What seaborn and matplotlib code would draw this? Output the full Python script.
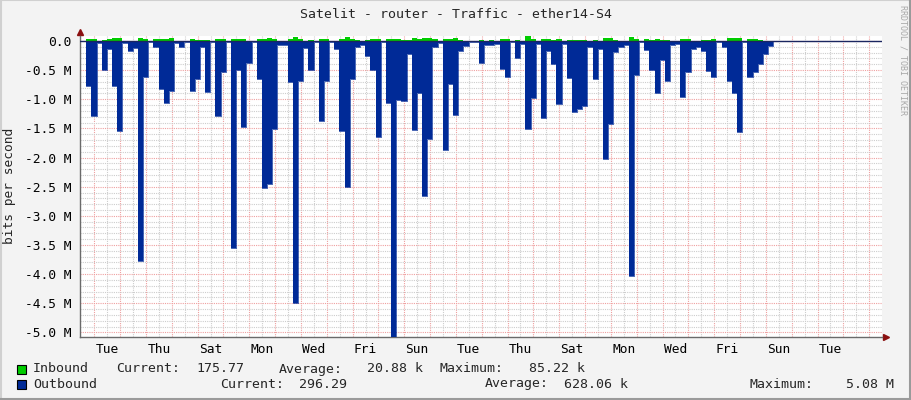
import numpy as np
import pandas as pd
import matplotlib
matplotlib.use('Agg')
import matplotlib.pyplot as plt
from matplotlib.patches import Rectangle
from matplotlib.lines import Line2D
from matplotlib.ticker import MultipleLocator
import seaborn as sns

# one sample every 4.8 h, starting Monday late morning
sample_start = '2024-01-01 11:43'
sample_step = '288min'

# outbound traffic in Mbit/s (drawn below zero)
outbound_mbps = [
    0.00, 0.78, 1.28, 0.03, 0.49, 0.13, 0.78, 1.55, 0.03, 0.18,
    0.12, 3.77, 0.61, 0.02, 0.11, 0.82, 1.06, 0.86, 0.03, 0.11,
    0.02, 0.86, 0.66, 0.10, 0.88, 0.02, 1.28, 0.54, 0.02, 3.55,
    0.50, 1.47, 0.37, 0.02, 0.65, 2.52, 2.46, 1.51, 0.07, 0.07,
    0.70, 4.50, 0.68, 0.12, 0.50, 0.02, 1.37, 0.69, 0.02, 0.14,
    1.55, 2.50, 0.66, 0.11, 0.06, 0.26, 0.49, 1.64, 0.02, 1.06,
    5.08, 1.01, 1.03, 0.22, 1.52, 0.89, 2.66, 1.68, 0.10, 0.03,
    1.87, 0.74, 1.27, 0.17, 0.09, 0.01, 0.01, 0.38, 0.07, 0.07,
    0.05, 0.48, 0.61, 0.02, 0.30, 0.05, 1.51, 0.97, 0.05, 1.32,
    0.18, 0.40, 1.08, 0.05, 0.63, 1.21, 1.16, 1.11, 0.10, 0.66,
    0.13, 2.02, 1.42, 0.19, 0.11, 0.07, 4.03, 0.58, 0.02, 0.16,
    0.49, 0.89, 0.32, 0.69, 0.07, 0.05, 0.96, 0.53, 0.14, 0.10,
    0.17, 0.52, 0.61, 0.02, 0.10, 0.69, 0.89, 1.56, 0.02, 0.61,
    0.53, 0.40, 0.22, 0.09, 0.00, 0.00, 0.00, 0.00, 0.00, 0.00,
    0.00, 0.00, 0.00, 0.00, 0.00, 0.00, 0.00, 0.00, 0.00, 0.00,
    0.00, 0.00, 0.00, 0.00,
]

# inbound traffic in kbit/s
inbound_kbps = [
    0, 35, 40, 5, 23, 40, 57, 57, 0, 5,
    5, 57, 40, 0, 34, 40, 40, 57, 0, 5,
    0, 34, 23, 11, 23, 0, 34, 34, 0, 40,
    34, 34, 5, 0, 29, 40, 57, 40, 0, 5,
    29, 75, 40, 5, 23, 0, 40, 29, 0, 5,
    40, 75, 40, 10, 5, 10, 29, 34, 0, 29,
    29, 34, 17, 17, 57, 29, 57, 57, 29, 5,
    29, 29, 46, 10, 5, 0, 0, 17, 5, 17,
    5, 40, 40, 0, 23, 5, 85, 29, 5, 29,
    29, 20, 40, 5, 17, 23, 10, 10, 5, 23,
    5, 57, 57, 10, 5, 5, 69, 40, 0, 34,
    10, 34, 23, 10, 5, 5, 40, 40, 5, 5,
    23, 23, 40, 0, 5, 52, 57, 52, 0, 29,
    29, 10, 5, 5, 0, 0, 0, 0, 0, 0,
    0, 0, 0, 0, 0, 0, 0, 0, 0, 0,
    0, 0, 0, 0,
]

day_labels = ['Tue', 'Thu', 'Sat', 'Mon', 'Wed', 'Fri', 'Sun', 'Tue',
              'Thu', 'Sat', 'Mon', 'Wed', 'Fri', 'Sun', 'Tue']
y_ticks = [0.0, -0.5, -1.0, -1.5, -2.0, -2.5, -3.0, -3.5, -4.0, -4.5, -5.0]
y_labels = ['0.0', '-0.5 M', '-1.0 M', '-1.5 M', '-2.0 M', '-2.5 M',
            '-3.0 M', '-3.5 M', '-4.0 M', '-4.5 M', '-5.0 M']

inbound_stats = ['175.77', '20.88 k', '85.22 k']
outbound_stats = ['296.29', '628.06 k', '5.08 M']

title = 'Satelit - router - Traffic - ether14-S4'

GREEN = '#00CC00'
BLUE = '#002A97'
RED_GRID = '#EFA0A0'
GRAY_GRID = '#CDCDCD'

sns.set_style('white')
plt.rcParams['font.family'] = ['DejaVu Sans Mono']

fig = plt.figure(figsize=(9.11, 4.0), dpi=100, facecolor='#F3F3F3')
ax = fig.add_axes([80 / 911, 63 / 400, 802 / 911, 301 / 400])
ax.set_facecolor('white')

edges = pd.date_range(sample_start, periods=len(outbound_mbps) + 1, freq=sample_step)
out = -np.array(outbound_mbps + [outbound_mbps[-1]])
inb = np.array(inbound_kbps + [inbound_kbps[-1]]) / 1000.0
df = pd.DataFrame({'time': edges, 'outbound': out, 'inbound': inb})

ax.fill_between(df['time'], df['inbound'], 0, step='post', color=GREEN, linewidth=0, zorder=3)
ax.fill_between(df['time'], df['outbound'], 0, step='post', color=BLUE, linewidth=0, zorder=3)
sns.lineplot(data=df, x='time', y='outbound', drawstyle='steps-post', estimator=None,
             color=BLUE, lw=0.5, ax=ax, zorder=3)
ax.axhline(0, color='#1a2660', lw=1.0, zorder=4)

axis_start = pd.Timestamp('2024-01-01 10:42')
ax.set_xlim(axis_start, axis_start + pd.Timedelta(days=31.05))
ax.set_ylim(-5.08, 0.086)

midnights = pd.date_range('2024-01-02', periods=31, freq='D')
noons = pd.date_range('2024-01-02 12:00', periods=30, freq='D')
noon_labels = []
for i in range(len(noons)):
    noon_labels.append(day_labels[i // 2] if i % 2 == 0 else '')
ax.set_xticks(noons)
ax.set_xticklabels(noon_labels)
ax.set_xticks(midnights, minor=True)

ax.set_yticks(y_ticks)
ax.set_yticklabels(y_labels)
ax.yaxis.set_minor_locator(MultipleLocator(0.1))

dots = (0, (1, 1))
ax.xaxis.grid(True, which='minor', color=RED_GRID, lw=0.8, ls=dots)
ax.xaxis.grid(True, which='major', color=GRAY_GRID, lw=0.8, ls=dots)
ax.yaxis.grid(True, which='major', color=RED_GRID, lw=0.8, ls=dots)
ax.yaxis.grid(True, which='minor', color=GRAY_GRID, lw=0.8, ls=dots)
ax.set_axisbelow(True)

ax.tick_params(axis='x', which='major', length=0, pad=4, labelsize=9.3, colors='black')
ax.tick_params(axis='x', which='minor', length=2.5, width=0.8, color='#707070', direction='out')
ax.tick_params(axis='y', which='both', length=0, pad=6, labelsize=9.3, colors='black')

for side in ['top', 'right']:
    ax.spines[side].set_visible(False)
for side in ['left', 'bottom']:
    ax.spines[side].set_color('#6a6a6a')
    ax.spines[side].set_linewidth(1.0)
ax.set_xlabel('')
ax.set_ylabel('')

# axis arrows
ax.plot(0, 1.012, marker='^', color='#8B1010', ms=4, transform=ax.transAxes, clip_on=False)
ax.plot(1.005, 0, marker='>', color='#8B1010', ms=4, transform=ax.transAxes, clip_on=False)

fig.text(0.5, 1 - 14 / 400, title, ha='center', va='center', fontsize=9.5)
fig.text(10 / 911, 1 - 186 / 400, 'bits per second', rotation=90,
         ha='center', va='center', fontsize=9.3)
fig.text(903 / 911, 1 - 60 / 400, 'RRDTOOL / TOBI OETIKER', rotation=270,
         ha='center', va='center', fontsize=6, color='#A8A8A8')

# legend
rows = [
    ('Inbound', GREEN, inbound_stats, 369, [116, 196, 279, 367, 440, 529]),
    ('Outbound', BLUE, outbound_stats, 384, [220, 299, 485, 564, 750, 846]),
]
for name, col, stats, yy, xs in rows:
    yf = 1 - yy / 400
    fig.add_artist(Rectangle((17 / 911, yf - 4.5 / 400), 9 / 911, 9 / 400,
                             facecolor=col, edgecolor='black', lw=0.8,
                             transform=fig.transFigure))
    fig.text(33 / 911, yf, name, ha='left', va='center', fontsize=9.5)
    parts = ['Current:', stats[0], 'Average:', stats[1], 'Maximum:', stats[2]]
    for px, txt in zip(xs, parts):
        fig.text(px / 911, yf, txt, ha='left', va='center', fontsize=9.5)

# frame around the image
fig.add_artist(Line2D([0, 1], [0.999, 0.999], color='#D0D0D0', lw=1.5, transform=fig.transFigure))
fig.add_artist(Line2D([0.001, 0.001], [0, 1], color='#D0D0D0', lw=1.5, transform=fig.transFigure))
fig.add_artist(Line2D([0, 1], [0.002, 0.002], color='#9A9A9A', lw=1.5, transform=fig.transFigure))
fig.add_artist(Line2D([0.999, 0.999], [0, 1], color='#9A9A9A', lw=1.5, transform=fig.transFigure))

fig.savefig('out.png', dpi=100, facecolor=fig.get_facecolor())
